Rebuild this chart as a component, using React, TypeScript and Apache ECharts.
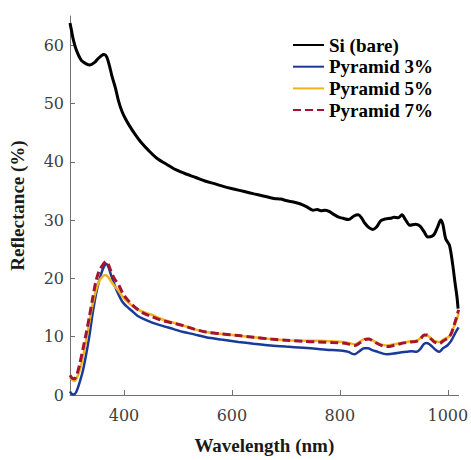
import React, { useEffect, useRef } from "react";
import * as echarts from "echarts";

const siWl = [300, 303, 306, 312, 321, 330, 337, 345, 352, 358, 363, 368, 373, 378, 384, 390, 396, 402, 410, 420, 432, 445, 461, 480, 497, 515, 533, 550, 569, 587, 605, 623, 641, 660, 678, 690, 702, 714, 726, 738, 750, 758, 765, 772, 780, 790, 798, 806, 816, 826, 834, 840, 846, 854, 861, 868, 876, 885, 894, 900, 908, 915, 922, 930, 940, 948, 956, 963, 970, 975, 981, 987, 991, 996, 1003, 1009, 1013, 1017, 1019];
const siVal = [63.8, 62.4, 61.0, 59.1, 57.4, 56.8, 56.6, 57.0, 57.7, 58.2, 58.4, 58.0, 56.5, 54.6, 52.7, 50.4, 48.7, 47.5, 46.2, 44.8, 43.3, 42.0, 40.6, 39.5, 38.6, 37.9, 37.3, 36.7, 36.2, 35.7, 35.3, 34.9, 34.5, 34.1, 33.7, 33.6, 33.3, 33.1, 32.8, 32.3, 31.7, 31.8, 31.6, 31.7, 31.5, 30.9, 30.5, 30.3, 30.1, 30.7, 30.9, 30.4, 29.5, 28.7, 28.4, 28.8, 29.9, 30.2, 30.3, 30.5, 30.4, 30.9, 30.0, 29.1, 29.3, 29.0, 28.0, 27.1, 27.2, 27.6, 28.8, 30.0, 29.2, 26.8, 25.7, 22.4, 19.5, 16.8, 14.8];

const p3Wl = [300, 303, 307, 312, 318, 324, 330, 336, 342, 348, 354, 360, 364, 367, 371, 376, 382, 389, 397, 405, 414, 425, 437, 450, 470, 492, 510, 530, 552, 580, 612, 640, 672, 700, 732, 760, 786, 805, 816, 822, 828, 836, 845, 852, 860, 870, 880, 888, 900, 912, 924, 932, 942, 950, 955, 960, 966, 972, 978, 984, 991, 999, 1004, 1008, 1012, 1016, 1020];
const p3Val = [0.6, 0.2, 0.1, 0.6, 2.2, 4.2, 7.0, 10.2, 14.0, 17.2, 19.6, 21.4, 22.2, 22.5, 22.0, 20.6, 19.0, 17.4, 16.0, 15.2, 14.5, 13.6, 13.0, 12.5, 11.9, 11.3, 10.8, 10.4, 9.9, 9.5, 9.1, 8.8, 8.5, 8.3, 8.1, 7.9, 7.7, 7.6, 7.4, 7.1, 7.0, 7.5, 8.0, 8.0, 7.7, 7.4, 7.1, 7.0, 7.1, 7.3, 7.4, 7.5, 7.4, 8.0, 8.7, 8.9, 8.7, 8.2, 7.7, 7.4, 8.0, 8.5, 9.0, 9.6, 10.3, 11.0, 11.6];

const p5Wl = [300, 304, 308, 312, 318, 324, 330, 336, 342, 348, 354, 360, 366, 371, 376, 383, 390, 398, 406, 414, 425, 437, 450, 470, 492, 510, 530, 552, 580, 612, 640, 672, 700, 732, 760, 786, 805, 818, 828, 838, 846, 854, 862, 872, 880, 888, 900, 912, 924, 932, 942, 950, 956, 962, 968, 975, 984, 992, 1002, 1007, 1011, 1016, 1020];
const p5Val = [3.0, 2.6, 2.4, 2.8, 4.2, 6.5, 9.4, 12.6, 15.6, 17.9, 19.5, 20.3, 20.6, 20.2, 19.5, 18.6, 17.9, 16.8, 16.0, 15.4, 14.7, 14.2, 13.8, 13.0, 12.4, 11.9, 11.3, 10.8, 10.5, 10.2, 9.9, 9.6, 9.4, 9.3, 9.3, 9.2, 9.1, 8.9, 8.7, 9.2, 9.6, 9.6, 9.3, 8.8, 8.6, 8.5, 8.7, 8.9, 9.1, 9.2, 9.3, 9.8, 10.2, 10.2, 9.8, 9.3, 9.1, 9.5, 10.0, 10.6, 11.6, 12.8, 14.0];

const p7Wl = [300, 304, 308, 312, 318, 324, 330, 336, 342, 348, 354, 360, 364, 367, 371, 376, 382, 390, 398, 406, 414, 425, 437, 450, 470, 492, 510, 530, 552, 580, 612, 640, 672, 700, 732, 760, 786, 805, 818, 828, 838, 846, 854, 862, 872, 880, 888, 900, 912, 924, 932, 942, 950, 956, 962, 968, 975, 984, 992, 1002, 1007, 1011, 1016, 1020];
const p7Val = [3.4, 2.9, 2.8, 3.3, 5.3, 7.9, 10.6, 13.5, 16.6, 19.5, 21.3, 22.2, 22.7, 22.9, 22.4, 21.2, 20.0, 18.9, 17.4, 16.4, 15.6, 14.7, 14.0, 13.5, 12.8, 12.3, 11.9, 11.3, 10.8, 10.5, 10.2, 9.9, 9.6, 9.4, 9.2, 9.1, 9.0, 8.9, 8.7, 8.5, 9.0, 9.5, 9.6, 9.2, 8.7, 8.4, 8.3, 8.5, 8.8, 9.0, 9.1, 9.2, 9.7, 10.3, 10.3, 9.7, 9.1, 8.8, 9.3, 9.9, 10.7, 11.8, 13.3, 14.6];

const seriesNames = ["Si (bare)", "Pyramid 3%", "Pyramid 5%", "Pyramid 7%"];
const xTicks = [400, 600, 800, 1000];
const yTicks = [0, 10, 20, 30, 40, 50, 60];

const zip = (a: number[], b: number[]) => a.map((x, i) => [x, b[i]]);

export default function App() {
  const ref = useRef<HTMLDivElement>(null);
  useEffect(() => {
    if (!ref.current) return;
    const chart = echarts.init(ref.current, null, { renderer: "svg" });
    const boldSerif = "Liberation Serif";
    const tickSerif = "DejaVu Serif";
    const axisColor = "#707070";
    const labelColor = "#404040";
    const mk = (name: string, data: number[][], color: string, width: number, type: any) => ({
      name,
      type: "line",
      data,
      symbol: "none",
      smooth: 0.3,
      color,
      lineStyle: { color, width, type },
      itemStyle: { color },
    });
    chart.setOption({
      animation: false,
      backgroundColor: "#ffffff",
      grid: { left: 64, right: 9, top: 16, bottom: 52 },
      legend: {
        orient: "vertical",
        left: 292,
        top: 35,
        padding: 0,
        itemWidth: 31,
        itemHeight: 14,
        itemGap: 1.7,
        itemStyle: { opacity: 0 },
        textStyle: { fontFamily: boldSerif, fontWeight: "bold", fontSize: 19, color: "#000", lineHeight: 20 },
        data: seriesNames,
      },
      xAxis: {
        type: "value",
        min: 300,
        max: 1020,
        name: "Wavelength (nm)",
        nameLocation: "middle",
        nameGap: 41,
        nameTextStyle: { fontFamily: boldSerif, fontWeight: "bold", fontSize: 19, color: "#1a1a1a" },
        axisLine: { lineStyle: { color: axisColor, width: 1 } },
        axisTick: { inside: true, length: 5, customValues: xTicks, lineStyle: { color: axisColor } },
        axisLabel: {
          customValues: xTicks,
          margin: 12,
          fontFamily: tickSerif,
          fontSize: 16,
          color: labelColor,
          formatter: (v: number) => String(v),
        },
        splitLine: { show: false },
      },
      yAxis: {
        type: "value",
        min: 0,
        max: 65,
        name: "Reflectance (%)",
        nameLocation: "middle",
        nameGap: 43,
        nameRotate: 90,
        nameTextStyle: { fontFamily: boldSerif, fontWeight: "bold", fontSize: 19, color: "#1a1a1a" },
        axisLine: { show: true, lineStyle: { color: axisColor, width: 1 } },
        axisTick: { show: true, inside: true, length: 5, customValues: yTicks, lineStyle: { color: axisColor } },
        axisLabel: {
          customValues: yTicks,
          margin: 6,
          fontFamily: tickSerif,
          fontSize: 16,
          color: labelColor,
          formatter: (v: number) => String(v),
        },
        splitLine: { show: false },
      },
      series: [
        mk(seriesNames[0], zip(siWl, siVal), "#000000", 3, "solid"),
        mk(seriesNames[1], zip(p3Wl, p3Val), "#1a3a98", 2.5, "solid"),
        mk(seriesNames[2], zip(p5Wl, p5Val), "#f2b31c", 2.5, "solid"),
        mk(seriesNames[3], zip(p7Wl, p7Val), "#a3142f", 3, [8, 4]),
      ],
    });
    return () => chart.dispose();
  }, []);
  return <div ref={ref} style={{ position: "fixed", left: 0, top: 0, width: 471, height: 460 }} />;
}
